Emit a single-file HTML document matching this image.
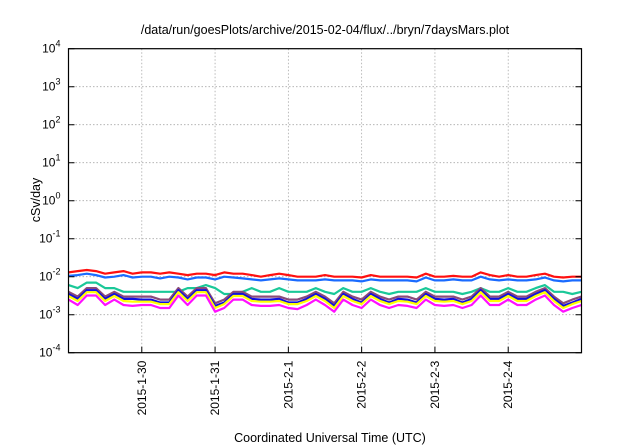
<!DOCTYPE html>
<html><head><meta charset="utf-8"><style>
body{margin:0;background:#fff;}
svg{display:block;font-family:"Liberation Sans",sans-serif;}
</style></head><body>
<svg id="chart" width="640" height="448" viewBox="0 0 640 448">
<text x="325" y="34" font-size="12.5" text-anchor="middle">/data/run/goesPlots/archive/2015-02-04/flux/../bryn/7daysMars.plot</text>
<text x="330" y="442" font-size="12.5" text-anchor="middle">Coordinated Universal Time (UTC)</text>
<text transform="translate(40,200) rotate(-90)" font-size="12.5" text-anchor="middle">cSv/day</text>
<g id="grid"></g><g id="series"></g><g id="axes"></g>
</svg>
<script>
const xTicks=["2015-1-30","2015-1-31","2015-2-1","2015-2-2","2015-2-3","2015-2-4"];
const yExps=[-4,-3,-2,-1,0,1,2,3,4];
const red=[1.3,1.4,1.5,1.4,1.2,1.3,1.4,1.2,1.3,1.3,1.2,1.3,1.2,1.1,1.2,1.2,1.1,1.3,1.2,1.2,1.1,1.0,1.1,1.2,1.1,1.0,1.0,1.0,1.1,1.0,1.0,1.0,0.95,1.1,1.0,1.0,1.0,1.0,0.95,1.2,1.0,1.0,1.05,1.0,1.0,1.3,1.1,1.0,1.1,1.0,1.0,1.1,1.2,1.0,0.95,1.0,1.0].map(v=>v*1e-2);
const blue=[1.05,1.1,1.2,1.1,0.95,1.0,1.1,0.95,1.0,1.0,0.9,1.0,0.95,0.85,0.95,0.95,0.85,1.0,0.95,0.9,0.85,0.8,0.85,0.9,0.85,0.8,0.8,0.8,0.85,0.8,0.8,0.8,0.75,0.85,0.8,0.8,0.8,0.8,0.75,0.95,0.8,0.8,0.85,0.8,0.8,1.0,0.85,0.8,0.85,0.8,0.8,0.85,0.95,0.8,0.75,0.8,0.8].map(v=>v*1e-2);
const green=[6,5,7,7,5,5,4,4,4,4,4,4,4,5,5,6,5,3.5,3.5,4,5,4,4,5,4,4,4,5,4,3.5,5,4,4,5,4,3.5,4,4,4,5,4,4,4,3.5,4,5,4,4,5,4,4,5,6,4,4,3.5,4].map(v=>v*1e-3);
const purple=[4,3,5,5,3,4,3,3,3,3,2.5,2.5,5,3,5,5,2,2.5,4,4,3,3,3,3,2.5,2.5,3,4,3,2,4,3,2.5,4,3,2.5,3,3,2.5,4,3,3,3,2.5,3,5,3,3,4,3,3,4,5,3,2,2.5,3].map(v=>v*1e-3);
const navy=[3.5,2.6,4.4,4.4,2.6,3.5,2.6,2.6,2.5,2.5,2.1,2.1,4.4,2.6,4.4,4.4,1.7,2.1,3.5,3.5,2.6,2.5,2.5,2.6,2.1,2.1,2.6,3.5,2.6,1.7,3.5,2.6,2.1,3.5,2.6,2.1,2.6,2.5,2.1,3.5,2.6,2.5,2.6,2.1,2.6,4.4,2.6,2.6,3.5,2.6,2.6,3.5,4.4,2.6,1.7,2.1,2.6].map(v=>v*1e-3);
const yellow=[3.1,2.3,3.9,3.9,2.3,3.1,2.3,2.2,2.2,2.2,1.9,1.9,3.9,2.3,3.9,3.9,1.5,1.9,3.1,3.1,2.3,2.2,2.2,2.3,1.9,1.9,2.3,3.1,2.3,1.5,3.1,2.3,1.9,3.1,2.3,1.9,2.3,2.2,1.9,3.1,2.3,2.2,2.3,1.9,2.3,3.9,2.3,2.3,3.1,2.3,2.3,3.1,3.9,2.3,1.5,1.9,2.3].map(v=>v*1e-3);
const magenta=[2.5,1.8,3.2,3.2,1.8,2.5,1.8,1.7,1.8,1.8,1.5,1.5,3.2,1.8,3.2,3.2,1.2,1.5,2.5,2.5,1.8,1.7,1.7,1.8,1.5,1.4,1.8,2.5,1.8,1.2,2.5,1.8,1.5,2.5,1.8,1.5,1.8,1.7,1.5,2.5,1.8,1.7,1.8,1.5,1.8,3.2,1.8,1.8,2.5,1.8,1.8,2.5,3.2,1.8,1.2,1.5,1.8].map(v=>v*1e-3);
const seriesList=[["red-series","#ff1010",red],["blue-series","#1a6bff",blue],["green-series","#1ac898",green],["purple-series","#8a4a7a",purple],["navy-series","#1010e0",navy],["yellow-series","#ffff00",yellow],["magenta-series","#ff10ff",magenta]];
const L=68.5,R=581.5,T=48.7,B=352.7;
const X=d=>L+(R-L)*d/7;
const Y=v=>T+(4-Math.log10(v))*(B-T)/8;
const NS="http://www.w3.org/2000/svg";
function mk(p,t,a){const e=document.createElementNS(NS,t);for(const k in a)e.setAttribute(k,a[k]);document.getElementById(p).appendChild(e);return e;}
xTicks.forEach((lab,i)=>{const x=X(i+1);
const g=mk("grid","line",{x1:x,x2:x,y1:T,y2:B,stroke:"#aaa","stroke-dasharray":"1.5,2","stroke-width":0.8});


const tk=mk("axes","line",{x1:x,x2:x,y1:B,y2:B-6,stroke:"#000"});


const t=mk("axes","text",{x:0,y:0,"font-size":12,"text-anchor":"end",transform:`translate(${x+4},${B+8}) rotate(-90)`});t.textContent=lab;


});
yExps.forEach(e=>{const y=T+(4-e)*(B-T)/8;
if(e>-4&&e<4){const g=mk("grid","line",{x1:L,x2:R,y1:y,y2:y,stroke:"#aaa","stroke-dasharray":"1.5,2","stroke-width":0.8});

}
const tk=mk("axes","path",{d:`M${L} ${y}h6M${R} ${y}h-6`,stroke:"#000"});


const t=mk("axes","text",{x:L-8,y:y+4,"font-size":12,"text-anchor":"end"});
t.innerHTML=`10<tspan dy="-6" font-size="9">${e}</tspan>`;


});
const fr=mk("axes","rect",{x:L,y:T,width:R-L,height:B-T,fill:"none",stroke:"#000","stroke-width":1.2});


seriesList.forEach(([n,c,arr])=>{
const pts=arr.map((v,i)=>`${X(i*7/(arr.length-1)).toFixed(1)},${Y(v).toFixed(1)}`).join(" ");
const p=mk("series","polyline",{points:pts,fill:"none",stroke:c,"stroke-width":2.2,"stroke-linejoin":"round"});


});
</script>
</body></html>
